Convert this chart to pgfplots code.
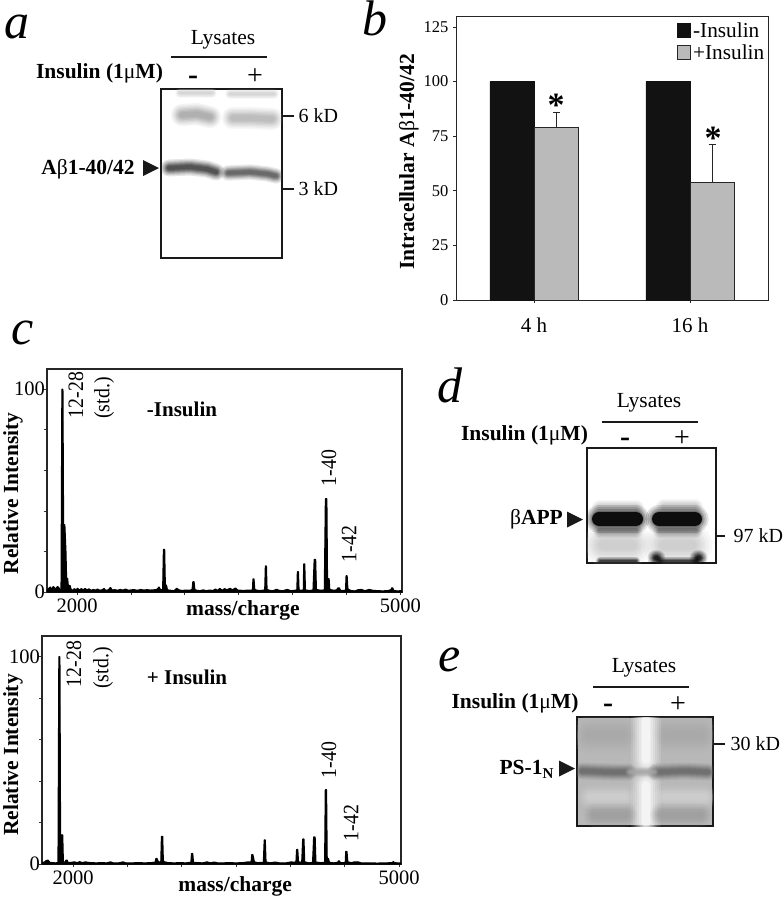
\documentclass[border=0pt]{standalone}
\usepackage{fontspec}
\setmainfont{Liberation Serif}
\usepackage{pgfplots}
\pgfplotsset{compat=1.18}

% 1pt in the file = 1px in the reference; y runs down as minus image y
\newcommand\fs[1]{\fontsize{#1}{#1}\selectfont}
\newcommand\lb[4][]{\node[inner sep=0pt,anchor=center,#1] at (#2pt,-#3pt) {#4};}
\newcommand\tri[3]{\fill[black!90] (#1pt,-#3pt+8pt) -- (#1pt,-#3pt-8pt) -- (#2pt,-#3pt) -- cycle;}
\newcommand\rot[1]{\scalebox{.9}[1]{\fs{22}#1}}
\newcommand\minus{\raisebox{-2.5pt}{\fs{30}\bfseries -}}
\newcommand\plus{\fs{28}+}
% soft gel band: darkness, width in px, path
\newcommand\bl[4]{\addplot[black!#1,line width=#2*#3,opacity=#4,line cap=round,line join=round] coordinates}
\newcommand\band[3]{%
  \bl{#1}{#2}{1.7}{.12} {#3};
  \bl{#1}{#2}{1.45}{.14} {#3};
  \bl{#1}{#2}{1.2}{.18} {#3};
  \bl{#1}{#2}{1.0}{.22} {#3};
  \bl{#1}{#2}{.8}{.28} {#3};
  \bl{#1}{#2}{.6}{.34} {#3};
  \bl{#1}{#2}{.4}{.4} {#3};
}
\pgfplotsset{
  gel/.style={scale only axis,anchor=south west,axis line style={line width=1.4pt,black!90},
    xtick pos=top,ytick pos=right,tick align=outside,major tick length=12pt,
    tick style={line width=1.2pt,black!90},yticklabel style={font=\fs{20},xshift=1pt},
    xticklabel style={yshift=-11pt},xtick style={draw=none},
    /pgf/number format/assume math mode=true},
  spec/.style={scale only axis,anchor=south west,axis line style={line width=1.1pt,black!85},
    ymin=0,ymax=110,xtick pos=bottom,ytick pos=left,tick align=outside,major tick length=2.5pt,
    tick style={line width=.8pt,black!80},ytick={0,20,40,60,80,100},yticklabels={0,,,,,100},
    xtick={2000,2500,3000,3500,4000,4500,5000},xticklabels={2000,,,,,,5000},
    tick label style={font=\fs{20.5}},yticklabel style={xshift=4pt},xticklabel style={yshift=-1pt},
    label style={font=\fs{21.5}\bfseries},
    /pgf/number format/assume math mode=true,/pgf/number format/1000 sep={}},
  peak/.style={black,fill=black,line width=1.3pt,line join=round},
}

\begin{document}
\begin{tikzpicture}
\useasboundingbox (0,0) rectangle (783pt,-899pt);

% panel a
\begin{axis}[gel,at={(161pt,-258pt)},width=121pt,height=169pt,xmin=161,xmax=282,ymin=-258,ymax=-89,
  ytick={-116,-189},yticklabels={6 kD,3 kD},xtick={193,255},xticklabels={\minus,\plus}]
\band{18}{6}{(180,-93)(212,-93)}
\band{18}{6}{(230,-94)(274,-94)}
\band{36}{13}{(182,-115)(197,-114)(210,-117)}
\band{30}{13}{(233,-118)(250,-118)(272,-119)}
\band{78}{10}{(169,-168)(190,-167)(207,-169)(216,-172)}
\band{68}{9}{(228,-173)(250,-172)(268,-174)(276,-176)}
\end{axis}

% panel b
\begin{axis}[scale only axis,anchor=south west,at={(456pt,-300pt)},width=312pt,height=284pt,
  xmin=-0.5,xmax=1.5,ymin=0,ymax=130,xtick={0,1},xticklabels={4 h,16 h},ytick={0,25,50,75,100,125},
  xtick pos=bottom,ytick pos=left,tick align=outside,major tick length=3pt,
  axis line style={line width=.9pt,black!85},tick style={line width=.8pt,black!85},
  yticklabel style={font=\fs{16.5},xshift=-1pt},xticklabel style={font=\fs{21},yshift=-11pt},
  /pgf/number format/assume math mode=true,
  ylabel={Intracellular A\textmd{β}1-40/42},label style={font=\fs{21.5}\bfseries},
  ylabel style={at={(axis description cs:-0.151,0.486)},anchor=center},
  legend style={at={(0.995,0.985)},anchor=north east,draw=none,fill=none,font=\fs{21.3},
    row sep=2pt,inner sep=0pt,/tikz/every even column/.append style={column sep=0pt}},
  legend cell align=left,
  legend image code/.code={\draw[#1] (0pt,-6.5pt) rectangle (13pt,7pt);},
  clip=false]
\addplot[ybar,bar width=0.283,bar shift=0,fill=black!93,draw=black!93] coordinates {(-0.1415,100) (0.8585,100)};
\addlegendentry{-Insulin}
\addplot[ybar,bar width=0.283,bar shift=0,fill=black!27,draw=black!85,line width=.9pt,
  error bars/.cd,y dir=plus,y explicit,error mark options={rotate=90,mark size=3.5pt,line width=.9pt},
  error bar style={line width=.9pt,black!85}]
  coordinates {(0.1415,79) +- (0,7) (1.1415,54) +- (0,17)};
\addlegendentry{+Insulin}
\end{axis}
\lb{556}{105}{\fs{34}\bfseries *}
\lb{713}{138}{\fs{34}\bfseries *}

% panel c, -Insulin
\begin{axis}[spec,at={(47pt,-592pt)},width=355pt,height=223pt,xmin=1721,xmax=5015,
  xlabel={mass/charge},xlabel style={at={(axis description cs:0.552,-0.081)},anchor=center},
  ylabel={Relative Intensity},ylabel style={at={(axis description cs:-0.096,0.442)},anchor=center}]
\addplot[peak] coordinates {
(1721,1)(1735,1.6)(1750,2.4)(1765,1.4)(1778,2.6)(1790,2.2)(1803,1)(1815,2.6)(1828,2.4)(1840,1)(1852,1.2)
(1860,100)(1868,100)(1874,33.4)(1886,33)(1896,20)(1902,7)(1912,6.6)(1918,3)(1934,3.2)(1945,1.2)
(1960,.8)(1975,1.6)(1990,1)(2005,1.8)(2020,.9)(2040,1.6)(2055,1)(2075,1.7)(2090,.9)(2110,1.5)(2130,.8)
(2150,1.2)(2170,.9)(2190,1.4)(2210,.8)(2235,1.1)(2250,1.7)(2265,.8)(2290,1)(2310,2.2)(2325,.9)(2350,1.1)
(2375,.8)(2400,1.2)(2425,.9)(2450,1.4)(2475,.8)(2500,1)(2530,1.1)(2560,.8)(2590,1.2)(2620,.9)(2650,1.1)
(2680,.9)(2710,1)(2740,1.2)(2760,2.4)(2775,1)(2795,1.2)(2802,21)(2812,21)(2818,4)(2830,3)(2838,1)
(2870,.8)(2900,.6)(2925,1.8)(2945,1)(2975,.7)(3010,.9)(3045,.8)(3068,1.2)(3075,5)(3085,5)(3092,1.2)
(3110,.8)(3140,.6)(3170,1)(3200,.6)(3230,.9)(3260,.7)(3285,1.4)(3300,.7)(3325,1.7)(3345,.8)(3370,1.6)
(3390,1)(3420,1.8)(3440,1)(3470,1.9)(3490,.9)(3520,.8)(3550,.7)(3580,.9)(3610,.8)(3628,1)(3633,6.4)(3641,6.4)(3648,1.2)
(3680,.7)(3720,.8)(3742,1)(3748,12.8)(3756,12.8)(3762,1.2)(3790,.7)(3820,.6)(3850,1.3)(3880,.7)(3910,.6)(3950,1.2)
(3985,.6)(4020,.8)(4040,1)(4045,10)(4053,10)(4059,1)(4080,.8)(4100,1)(4104,13.8)(4112,13.8)(4118,1)(4150,.7)(4190,.9)
(4201,16)(4213,16)(4220,1.2)(4260,.8)(4295,1)(4305,46)(4317,46)(4323,6.5)(4338,6.5)(4344,1.2)(4380,.8)(4410,1)
(4420,2)(4432,2)(4445,.8)(4475,.7)(4492,1)(4497,8)(4505,8)(4512,1.5)(4540,.7)(4575,.5)(4610,1.1)(4640,1.2)(4670,.6)
(4710,1.2)(4745,.8)(4790,.6)(4840,.5)(4890,.7)(4915,1.2)(4920,2)(4928,2)(4940,.7)(4970,.5)(5015,.6)} \closedcycle;
\end{axis}
\lb[rotate=90]{76}{395}{\rot{12-28}}
\lb[rotate=90]{104}{398}{\rot{(std.)}}
\lb{182}{409}{\fs{21}\bfseries -Insulin}
\lb[rotate=90]{329}{468}{\rot{1-40}}
\lb[rotate=90]{349}{544}{\rot{1-42}}

% panel c, +Insulin
\begin{axis}[spec,at={(42pt,-864pt)},width=359pt,height=228pt,xmin=1714,xmax=5018,
  xlabel={mass/charge},xlabel style={at={(axis description cs:0.538,-0.10)},anchor=center},
  ylabel={Relative Intensity},ylabel style={at={(axis description cs:-0.081,0.478)},anchor=center}]
\addplot[peak] coordinates {
(1714,.6)(1740,1)(1755,1.7)(1770,1.8)(1785,.8)(1810,.6)(1840,.5)(1862,.7)
(1870,100)(1878,100)(1884,14)(1904,14)(1910,1)(1925,.8)(1935,1.8)(1945,1.8)(1955,.6)(1990,.8)(2010,1)
(2040,.6)(2060,1.1)(2085,.6)(2115,1)(2140,.7)(2175,.6)(2210,.5)(2260,.6)(2310,.5)(2345,1)(2370,.5)(2420,.5)
(2460,1)(2485,.5)(2540,.5)(2600,.6)(2660,.5)(2720,.6)(2757,.9)(2762,2.6)(2772,2.6)(2785,1)(2808,1)
(2814,13.3)(2824,13.3)(2830,1.5)(2842,1)(2880,.6)(2930,.5)(2980,.6)(3040,.5)(3085,.8)(3091,5)(3101,5)(3107,.8)
(3150,.6)(3190,.5)(3235,1)(3260,.5)(3300,.9)(3330,.5)(3380,.5)(3430,.6)(3500,.5)(3560,.6)(3600,.9)(3640,1)
(3645,4.5)(3654,4.5)(3668,1)(3700,.6)(3752,.8)(3760,11.6)(3768,11.6)(3775,1)(3810,.5)(3860,.9)(3900,.5)(3960,.5)
(4010,1)(4030,.8)(4052,1)(4058,7)(4067,7)(4074,1)(4105,.8)(4114,12)(4124,12)(4131,1)(4170,.5)(4205,.8)(4215,13)(4227,13)
(4234,.9)(4280,.6)(4316,.8)(4322,35.8)(4332,35.8)(4338,2.6)(4350,2.6)(4358,.8)(4400,.5)(4436,.8)(4442,1.5)(4450,1.5)
(4460,.6)(4495,.6)(4506,1)(4510,6)(4520,6)(4528,1)(4560,.6)(4590,1)(4625,1)(4650,.5)(4720,.5)(4800,.4)(4880,.5)
(4940,.6)(4947,1.2)(4957,.6)(5018,.4)} \closedcycle;
\end{axis}
\lb[rotate=90]{74}{664}{\rot{12-28}}
\lb[rotate=90]{103}{668}{\rot{(std.)}}
\lb{187}{677}{\fs{21}\bfseries + Insulin}
\lb[rotate=90]{329}{760}{\rot{1-40}}
\lb[rotate=90]{351}{823}{\rot{1-42}}

% panel d
\begin{axis}[gel,at={(587pt,-563pt)},width=129pt,height=115pt,xmin=587,xmax=716,ymin=-563,ymax=-448,
  ytick={-536},yticklabels={97 kD},major tick length=9pt,yticklabel style={xshift=4pt},
  xtick={625,682},xticklabels={\minus,\plus}]
\band{22}{24}{(603,-545)(632,-545)}
\band{22}{24}{(664,-545)(692,-545)}
\band{45}{8}{(600,-531)(636,-531)}
\band{45}{8}{(660,-531)(696,-531)}
\band{85}{5}{(600,-561)(636,-561)}
\band{85}{5}{(660,-561)(696,-561)}
\band{100}{10}{(656,-558)(657,-558)}
\band{100}{10}{(698,-558)(699,-558)}
\band{25}{10}{(600,-508)(636,-508)}
\band{25}{10}{(664,-507)(695,-507)}
\band{100}{16}{(599,-519)(636,-519)}
\band{100}{16}{(659,-519)(695,-519)}
\addplot[black!95,line width=14pt,line cap=round] coordinates {(599,-519)(636,-519)};
\addplot[black!95,line width=14pt,line cap=round] coordinates {(659,-519)(695,-519)};
\end{axis}

% panel e
\begin{axis}[gel,at={(577pt,-826pt)},width=136pt,height=109pt,xmin=577,xmax=713,ymin=-826,ymax=-717,
  ytick={-744},yticklabels={30 kD},major tick length=12pt,yticklabel style={xshift=1pt},
  xtick={608,678},xticklabels={\minus,\plus},axis background/.style={fill=black!28}]
\band{34}{22}{(590,-735)(622,-735)}
\band{34}{22}{(668,-735)(700,-735)}
\band{18}{14}{(590,-797)(625,-797)}
\band{18}{14}{(665,-797)(705,-797)}
\band{0}{18}{(646,-720)(646,-760)}
\band{0}{18}{(646,-785)(646,-823)}
\band{38}{14}{(595,-815)(625,-815)}
\band{38}{14}{(662,-815)(700,-815)}
\band{60}{10}{(582,-771)(610,-772)(628,-772)}
\band{60}{10}{(656,-772)(685,-771)(708,-772)}
\band{35}{6}{(630,-772)(654,-772)}
\end{axis}

% headers and markers
\lb{223}{40}{\fs{21.5}Lysates}
\draw[line width=1.1pt,black!90] (171pt,-57pt) -- (267pt,-57pt);
\lb{99.5}{73}{\fs{21.5}\bfseries Insulin (1\textmd{μ}M)}
\lb{88}{169}{\fs{21.5}\bfseries A\textmd{β}1-40/42}
\tri{143}{159}{168}

\lb{649}{403}{\fs{21.5}Lysates}
\draw[line width=1.1pt,black!90] (602pt,-422pt) -- (698pt,-422pt);
\lb{524.5}{435}{\fs{21.5}\bfseries Insulin (1\textmd{μ}M)}
\lb{536.5}{519}{\fs{21.5}\textmd{β}\bfseries APP}
\tri{567}{583}{519.5}

\lb{644}{668}{\fs{21.5}Lysates}
\draw[line width=1.1pt,black!90] (593pt,-687pt) -- (689pt,-687pt);
\lb{515}{703}{\fs{21.5}\bfseries Insulin (1\textmd{μ}M)}
\lb{526.5}{769}{\fs{21.5}\bfseries PS-1\raisebox{-4pt}{\fs{15}N}}
\tri{559}{575}{768.5}

% panel letters
\node[inner sep=0pt,anchor=base west] at (4pt,-38pt) {\fs{50}\itshape a};
\node[inner sep=0pt,anchor=base west] at (362pt,-36pt) {\fs{50}\itshape b};
\node[inner sep=0pt,anchor=base west] at (11pt,-344pt) {\fs{50}\itshape c};
\node[inner sep=0pt,anchor=base west] at (437pt,-402pt) {\fs{50}\itshape d};
\node[inner sep=0pt,anchor=base west] at (438pt,-671pt) {\fs{50}\itshape e};
\end{tikzpicture}
\end{document}
